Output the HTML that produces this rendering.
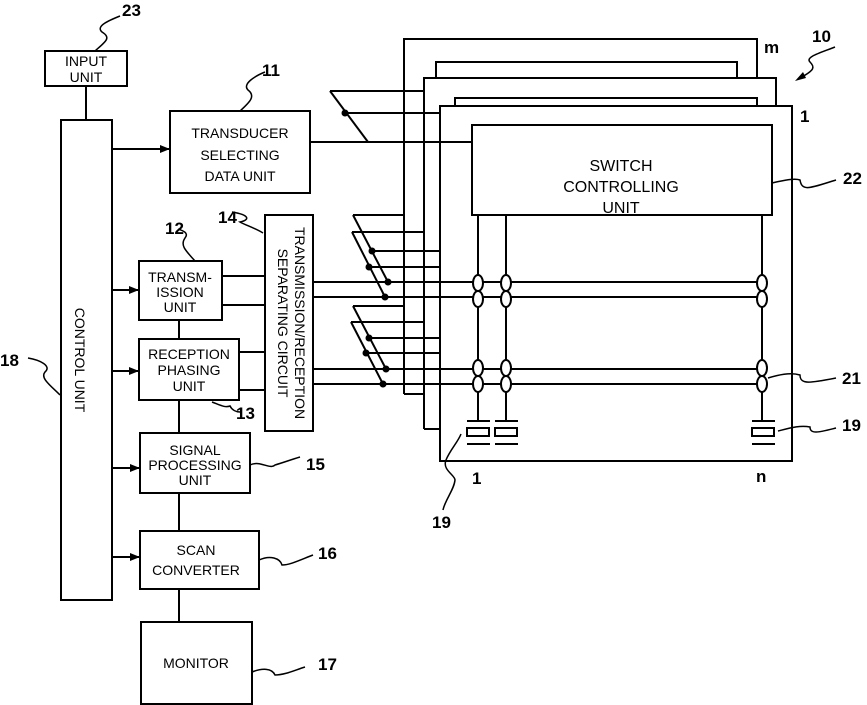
<!DOCTYPE html>
<html><head><meta charset="utf-8"><style>
html,body{margin:0;padding:0;background:#fff;}
svg{display:block;}
text{font-family:"Liberation Sans",sans-serif;fill:#000;}
.b{font-weight:bold;font-size:17px;}
.t{font-size:14px;}
</style></head><body>
<svg width="867" height="705" viewBox="0 0 867 705" xmlns="http://www.w3.org/2000/svg">
<defs><marker id="a" markerWidth="10" markerHeight="8" refX="9" refY="4" orient="auto" markerUnits="userSpaceOnUse"><path d="M0,0 L10,4 L0,8 z" fill="#000"/></marker></defs>
<g fill="none" stroke="#000" stroke-width="2">
<!-- left blocks -->
<rect x="45" y="51" width="82" height="35"/>
<line x1="86" y1="86" x2="86" y2="120"/>
<rect x="61" y="120" width="51" height="480"/>
<rect x="170" y="111" width="140" height="82"/>
<line x1="112" y1="149" x2="169" y2="149" marker-end="url(#a)"/>
<rect x="139" y="261" width="83" height="59"/>
<rect x="139" y="339" width="100" height="61"/>
<rect x="140" y="433" width="110" height="60"/>
<rect x="140" y="531" width="119" height="58"/>
<rect x="141" y="622" width="111" height="82"/>
<rect x="265" y="215" width="48" height="216"/>
<line x1="112" y1="290" x2="138" y2="290" marker-end="url(#a)"/>
<line x1="112" y1="371" x2="138" y2="371" marker-end="url(#a)"/>
<line x1="112" y1="468" x2="139" y2="468" marker-end="url(#a)"/>
<line x1="112" y1="557" x2="139" y2="557" marker-end="url(#a)"/>
<line x1="179" y1="320" x2="179" y2="339"/>
<line x1="179" y1="400" x2="179" y2="433"/>
<line x1="179" y1="493" x2="179" y2="531"/>
<line x1="179" y1="589" x2="179" y2="622"/>
<line x1="222" y1="276" x2="265" y2="276"/>
<line x1="222" y1="305" x2="265" y2="305"/>
<line x1="239" y1="352" x2="265" y2="352"/>
<line x1="239" y1="390" x2="265" y2="390"/>
<!-- frames -->
<polyline points="404,394 404,39 757,39 757,78"/>
<line x1="404" y1="394" x2="424" y2="394"/>
<polyline points="436,78 436,62 737,62 737,78"/>
<polyline points="424,429 424,78 776,78 776,106"/>
<line x1="424" y1="429" x2="440" y2="429"/>
<polyline points="455,106 455,98 757,98 757,106"/>
<rect x="440" y="106" width="352" height="355"/>
<rect x="472" y="125" width="300" height="90"/>
<!-- top switch -->
<line x1="330" y1="91" x2="424" y2="91"/>
<line x1="345" y1="113" x2="440" y2="113"/>
<line x1="310" y1="142" x2="472" y2="142"/>
<line x1="330" y1="91" x2="368" y2="142"/>
<!-- switch groups -->
<line x1="353" y1="215" x2="404" y2="215"/>
<line x1="352" y1="232" x2="424" y2="232"/>
<line x1="372" y1="251" x2="440" y2="251"/>
<line x1="369" y1="267" x2="440" y2="267"/>
<line x1="353" y1="215" x2="388" y2="282"/>
<line x1="352" y1="232" x2="385" y2="297"/>
<line x1="353" y1="306" x2="404" y2="306"/>
<line x1="351" y1="322" x2="424" y2="322"/>
<line x1="369" y1="338" x2="440" y2="338"/>
<line x1="366" y1="353" x2="440" y2="353"/>
<line x1="353" y1="306" x2="386" y2="369"/>
<line x1="351" y1="322" x2="383" y2="384"/>
<!-- rows -->
<line x1="313" y1="282" x2="764" y2="282"/>
<line x1="313" y1="297" x2="764" y2="297"/>
<line x1="313" y1="369" x2="764" y2="369"/>
<line x1="313" y1="384" x2="764" y2="384"/>
<!-- columns -->
<line x1="478" y1="215" x2="478" y2="420"/>
<line x1="506" y1="215" x2="506" y2="420"/>
<line x1="762" y1="215" x2="762" y2="420"/>
</g>
<g fill="#fff" stroke="#000" stroke-width="2">
<ellipse cx="478" cy="283" rx="5" ry="8"/><ellipse cx="478" cy="299" rx="5" ry="8"/>
<ellipse cx="478" cy="368" rx="5" ry="8"/><ellipse cx="478" cy="384" rx="5" ry="8"/>
<ellipse cx="506" cy="283" rx="5" ry="8"/><ellipse cx="506" cy="299" rx="5" ry="8"/>
<ellipse cx="506" cy="368" rx="5" ry="8"/><ellipse cx="506" cy="384" rx="5" ry="8"/>
<ellipse cx="762" cy="283" rx="5" ry="8"/><ellipse cx="762" cy="299" rx="5" ry="8"/>
<ellipse cx="762" cy="368" rx="5" ry="8"/><ellipse cx="762" cy="384" rx="5" ry="8"/>
<rect x="467" y="428" width="22" height="8"/><rect x="495" y="428" width="22" height="8"/><rect x="752" y="428" width="22" height="8"/>
</g>
<g stroke="#000" stroke-width="2">
<line x1="467" y1="421" x2="490" y2="421"/><line x1="467" y1="444" x2="490" y2="444"/>
<line x1="495" y1="421" x2="518" y2="421"/><line x1="495" y1="444" x2="518" y2="444"/>
<line x1="752" y1="421" x2="775" y2="421"/><line x1="752" y1="444" x2="775" y2="444"/>
</g>
<g fill="#000">
<circle cx="345" cy="113" r="3.5"/>
<circle cx="372" cy="251" r="3.5"/><circle cx="369" cy="267" r="3.5"/><circle cx="388" cy="282" r="3.5"/><circle cx="385" cy="297" r="3.5"/>
<circle cx="369" cy="338" r="3.5"/><circle cx="366" cy="353" r="3.5"/><circle cx="386" cy="369" r="3.5"/><circle cx="383" cy="384" r="3.5"/>
</g>
<!-- leader squiggles -->
<g fill="none" stroke="#000" stroke-width="1.5">
<path d="M95,51 C105,42 112,38 102,32 C95,26 110,20 120,16"/>
<path d="M240,111 C250,102 256,96 248,90 C242,84 255,76 265,72"/>
<path d="M195,261 C185,250 180,245 185,238 C190,232 180,230 178,229"/>
<path d="M263,233 C255,228 245,225 240,222 C250,220 250,215 232,212"/>
<path d="M60,395 C50,385 40,378 45,372 C52,366 40,360 28,358"/>
<path d="M212,402 C220,405 225,408 230,406 C232,410 236,412 240,412"/>
<path d="M250,465 C260,460 270,470 275,465 C285,462 290,460 300,457"/>
<path d="M259,560 C270,555 280,558 282,565 C290,565 300,560 313,555"/>
<path d="M252,672 C262,668 272,668 275,675 C285,675 295,670 305,667"/>
<path d="M772,183 C785,180 795,178 800,180 C802,192 810,188 836,180"/>
<path d="M768,378 C778,375 790,372 800,375 C800,385 810,383 836,378"/>
<path d="M778,431 C790,428 800,425 810,427 C810,435 820,432 836,428"/>
<path d="M461,434 C458,442 450,450 446,460 C442,470 455,475 455,480 C454,490 445,500 443,510"/>
<path d="M835,47 C820,53 805,57 810,62 C815,67 815,70 800,78"/>
</g>
<path d="M795,81 L803,72 L806,78 z" fill="#000"/>
<!-- texts -->
<g class="t" text-anchor="middle">
<text x="86" y="66">INPUT</text><text x="86" y="82">UNIT</text>
<text x="240" y="138">TRANSDUCER</text><text x="240" y="160">SELECTING</text><text x="240" y="181">DATA UNIT</text>
<text x="180" y="282">TRANSM-</text><text x="180" y="297">ISSION</text><text x="180" y="312">UNIT</text>
<text x="189" y="359">RECEPTION</text><text x="189" y="375">PHASING</text><text x="189" y="391">UNIT</text>
<text x="195" y="455">SIGNAL</text><text x="195" y="470">PROCESSING</text><text x="195" y="485">UNIT</text>
<text x="196" y="555">SCAN</text><text x="196" y="575">CONVERTER</text>
<text x="196" y="668">MONITOR</text>
<text x="621" y="171" font-size="16">SWITCH</text><text x="621" y="192" font-size="16">CONTROLLING</text><text x="621" y="213" font-size="16">UNIT</text>
<text transform="translate(80,360) rotate(90)" x="0" y="5">CONTROL UNIT</text>
<text transform="translate(289,323) rotate(90)" x="0" y="-6">TRANSMISSION/RECEPTION</text>
<text transform="translate(289,323) rotate(90)" x="0" y="11">SEPARATING CIRCUIT</text>
</g>
<g class="b">
<text x="122" y="16">23</text><text x="262" y="76">11</text>
<text x="165" y="234">12</text><text x="218" y="223">14</text>
<text x="0" y="366">18</text><text x="236" y="419">13</text>
<text x="306" y="470">15</text><text x="318" y="559">16</text><text x="318" y="670">17</text>
<text x="812" y="42">10</text><text x="764" y="53">m</text><text x="800" y="122">1</text>
<text x="843" y="184">22</text><text x="842" y="384">21</text><text x="842" y="431">19</text>
<text x="472" y="484">1</text><text x="756" y="482">n</text><text x="432" y="528">19</text>
</g>
</svg>
</body></html>
